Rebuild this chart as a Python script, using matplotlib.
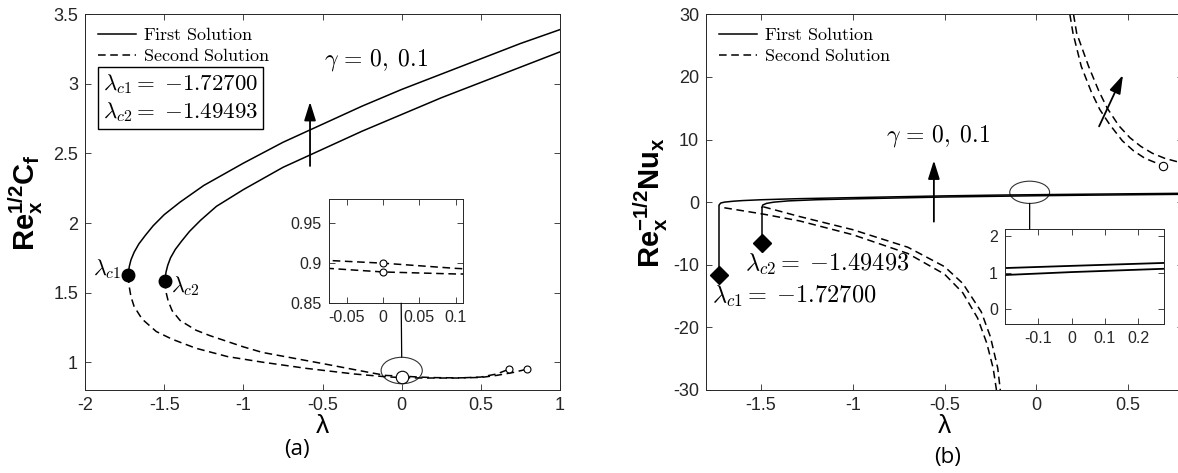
import matplotlib
matplotlib.use('Agg')
import matplotlib.pyplot as plt
from matplotlib.patches import Ellipse, ConnectionPatch
from matplotlib.lines import Line2D

plt.rcParams['mathtext.fontset'] = 'cm'
plt.rcParams['mathtext.bf'] = 'Liberation Sans:bold'
plt.rcParams['mathtext.rm'] = 'Liberation Sans'
plt.rcParams['axes.unicode_minus'] = False
plt.rcParams['font.family'] = 'Liberation Sans'

# ---------------- data: panel (a) skin friction ----------------
lam_c = [-1.72700, -1.49493]
cf_c = [1.624, 1.584]

cf1_first_x = [-1.727, -1.725, -1.72, -1.71, -1.69, -1.66, -1.62, -1.57, -1.5, -1.4, -1.25,
               -1.0, -0.75, -0.5, -0.25, 0.0, 0.25, 0.5, 0.75, 1.0]
cf1_first_y = [1.624, 1.655, 1.69, 1.735, 1.79, 1.85, 1.91, 1.98, 2.06, 2.15, 2.27,
               2.43, 2.58, 2.71, 2.84, 2.96, 3.07, 3.18, 3.29, 3.39]
cf2_first_x = [-1.495, -1.493, -1.488, -1.478, -1.46, -1.43, -1.39, -1.34, -1.27, -1.17,
               -1.0, -0.75, -0.5, -0.25, 0.0, 0.25, 0.5, 0.75, 1.0]
cf2_first_y = [1.584, 1.615, 1.65, 1.695, 1.75, 1.81, 1.87, 1.94, 2.02, 2.12,
               2.24, 2.40, 2.53, 2.66, 2.78, 2.90, 3.01, 3.12, 3.23]

cf1_second_x = [-1.727, -1.722, -1.71, -1.69, -1.64, -1.55, -1.45, -1.3, -1.1, -0.88,
                -0.6, -0.3, -0.1, 0.0, 0.1, 0.2, 0.35, 0.5, 0.6, 0.679]
cf1_second_y = [1.624, 1.55, 1.47, 1.40, 1.31, 1.22, 1.165, 1.10, 1.04, 1.0,
                0.955, 0.915, 0.895, 0.889, 0.8865, 0.886, 0.886, 0.893, 0.915, 0.95]
cf2_second_x = [-1.495, -1.49, -1.475, -1.45, -1.4, -1.3, -1.21, -1.0, -0.88, -0.5,
                -0.2, -0.1, 0.0, 0.1, 0.2, 0.35, 0.5, 0.6, 0.7, 0.793]
cf2_second_y = [1.584, 1.51, 1.44, 1.37, 1.30, 1.23, 1.19, 1.11, 1.07, 0.99,
                0.925, 0.9045, 0.900, 0.8935, 0.889, 0.887, 0.89, 0.905, 0.925, 0.95]
cf_end_x = [0.679, 0.793]
cf_end_y = [0.95, 0.95]

# ---------------- data: panel (b) Nusselt number ----------------
nu_c = [-11.6, -6.5]

nu1_first_x = [-1.727, -1.72, -1.70, -1.65, -1.6, -1.5, -1.3, -1.0, -0.5, -0.2, 0.0, 0.277, 0.5, 0.8]
nu1_first_y = [-0.4, -0.15, 0.0, 0.15, 0.25, 0.38, 0.55, 0.72, 1.0, 1.13, 1.19, 1.27, 1.33, 1.41]
nu2_first_x = [-1.495, -1.49, -1.47, -1.43, -1.35, -1.2, -1.0, -0.5, -0.2, 0.0, 0.277, 0.5, 0.8]
nu2_first_y = [-0.8, -0.45, -0.2, 0.0, 0.2, 0.38, 0.52, 0.82, 0.94, 1.02, 1.11, 1.17, 1.25]

nu1_second_x = [-1.70, -1.49, -1.29, -1.0, -0.7, -0.5, -0.4, -0.32, -0.27, -0.235, -0.217]
nu1_second_y = [-0.9, -1.9, -3.0, -5.2, -8.2, -11.5, -14.5, -18.5, -22.5, -26.5, -30]
nu2_second_x = [-1.488, -1.29, -1.0, -0.7, -0.5, -0.4, -0.3, -0.25, -0.21, -0.196]
nu2_second_y = [-0.74, -2.3, -4.4, -7.2, -10.3, -13.0, -17.5, -21.5, -26.5, -30]

nu3_second_x = [0.183, 0.2, 0.245, 0.3, 0.346, 0.4, 0.469, 0.53, 0.592, 0.692]
nu3_second_y = [30, 27.0, 21.7, 17.6, 14.8, 12.4, 9.8, 8.2, 7.0, 5.8]
nu4_second_x = [0.203, 0.22, 0.285, 0.34, 0.387, 0.45, 0.51, 0.57, 0.633, 0.7, 0.8]
nu4_second_y = [30, 27.0, 21.7, 17.8, 15.0, 12.2, 10.3, 8.9, 7.8, 7.0, 6.2]
nu_end_x = [0.692]
nu_end_y = [5.8]

tick_col = '#262626'


def style_axes(ax, size=13):
    ax.tick_params(direction='in', top=True, right=True, length=4, width=0.6,
                   colors=tick_col, labelsize=size, labelcolor=tick_col, pad=5)
    for s in ax.spines.values():
        s.set_color(tick_col)
        s.set_linewidth(0.7)


fig = plt.figure(figsize=(11.78, 4.73), dpi=100)
arrow_kw = dict(arrowstyle='-|>,head_length=0.7,head_width=0.22', color='k', lw=1.3, mutation_scale=16)
leg_kw = dict(loc='upper left', frameon=False, fontsize=13, handlelength=2.1,
              borderaxespad=0.3, labelspacing=0.25, handletextpad=0.4)

# ================= panel (a) =================
ax = fig.add_axes([0.0722, 0.1755, 0.4032, 0.7943])
ax.plot(cf1_first_x, cf1_first_y, 'k-', lw=1.1)
ax.plot(cf2_first_x, cf2_first_y, 'k-', lw=1.1)
ax.plot(cf1_second_x, cf1_second_y, 'k--', lw=1.1, dashes=(5, 3))
ax.plot(cf2_second_x, cf2_second_y, 'k--', lw=1.1, dashes=(5, 3))
ax.plot(lam_c, cf_c, 'o', color='k', ms=9)
ax.plot(cf_end_x, cf_end_y, 'o', mfc='white', mec='k', ms=5, mew=0.8)
ax.plot([0], [0.895], 'o', mfc='white', mec='k', ms=9, mew=0.8)
ax.add_patch(Ellipse((0, 0.94), 0.26, 0.19, fill=False, ec='#333333', lw=0.8))
ax.set_xlim(-2, 1)
ax.set_ylim(0.8, 3.5)
ax.set_xticks([-2, -1.5, -1, -0.5, 0, 0.5, 1])
ax.set_xticklabels(['-2', '-1.5', '-1', '-0.5', '0', '0.5', '1'])
ax.set_yticks([1, 1.5, 2, 2.5, 3, 3.5])
ax.set_yticklabels(['1', '1.5', '2', '2.5', '3', '3.5'])
style_axes(ax)
ax.set_xlabel('λ', fontsize=19, labelpad=0)
ax.set_ylabel(r'$\mathbf{Re_x^{1/2}C_f}$', fontsize=21, math_fontfamily='custom', labelpad=6)
ax.text(-1.77, 1.67, r'$\lambda_{c1}$', fontsize=16, ha='right', va='center')
ax.text(-1.46, 1.55, r'$\lambda_{c2}$', fontsize=16, ha='left', va='center')
ax.text(-1.885, 2.90, r'$\lambda_{c1} = \;{-1.72700}$' + '\n' + r'$\lambda_{c2} = \;{-1.49493}$',
        fontsize=16.5, va='center', ha='left', linespacing=1.25,
        bbox=dict(boxstyle='square,pad=0.22', fc='white', ec='k', lw=1.0))
ax.text(-0.49, 3.17, r'$\gamma\, =\, 0,\; 0.1$', fontsize=17, va='center')
ax.annotate('', xy=(-0.579, 2.89), xytext=(-0.579, 2.39), arrowprops=arrow_kw)
handles = [Line2D([], [], color='k', lw=1.1), Line2D([], [], color='k', lw=1.1, ls='--', dashes=(5, 3))]
ax.legend(handles, [r'$\mathrm{First\ Solution}$', r'$\mathrm{Second\ Solution}$'], **leg_kw)
fig.text(0.252, 0.05, '(a)', fontsize=16, ha='center', va='center', family='Open Sans')

axin = fig.add_axes([0.279, 0.359, 0.114, 0.220])
axin.plot(cf1_second_x, cf1_second_y, 'k--', lw=1.1, dashes=(5, 3))
axin.plot(cf2_second_x, cf2_second_y, 'k--', lw=1.1, dashes=(5, 3))
axin.plot([0, 0], [0.900, 0.889], 'o', mfc='white', mec='k', ms=5, mew=0.8)
axin.set_xlim(-0.075, 0.11)
axin.set_ylim(0.85, 0.98)
axin.set_xticks([-0.05, 0, 0.05, 0.1])
axin.set_xticklabels(['-0.05', '0', '0.05', '0.1'])
axin.set_yticks([0.85, 0.9, 0.95])
axin.set_yticklabels(['0.85', '0.9', '0.95'])
style_axes(axin, size=11.5)
con = ConnectionPatch(xyA=(0, 1.036), coordsA=ax.transData, xyB=(0.54, 0), coordsB=axin.transAxes,
                      color='k', lw=0.9)
fig.add_artist(con)

# ================= panel (b) =================
bx = fig.add_axes([0.5993, 0.1755, 0.405, 0.7943])
bx.plot(nu1_first_x, nu1_first_y, 'k-', lw=1.1)
bx.plot(nu2_first_x, nu2_first_y, 'k-', lw=1.1)
bx.vlines(lam_c, nu_c, [nu1_first_y[0], nu2_first_y[0]], colors='k', lw=1.1)
bx.plot(nu1_second_x, nu1_second_y, 'k--', lw=1.1, dashes=(5, 3))
bx.plot(nu2_second_x, nu2_second_y, 'k--', lw=1.1, dashes=(5, 3))
bx.plot(nu3_second_x, nu3_second_y, 'k--', lw=1.1, dashes=(5, 3))
bx.plot(nu4_second_x, nu4_second_y, 'k--', lw=1.1, dashes=(5, 3))
bx.plot(lam_c, nu_c, 'D', color='k', ms=9)
bx.plot(nu_end_x, nu_end_y, 'o', mfc='white', mec='k', ms=6, mew=0.8)
bx.add_patch(Ellipse((-0.036, 1.57), 0.217, 3.55, fill=False, ec='#333333', lw=0.8))
bx.set_xlim(-1.8, 0.8)
bx.set_ylim(-30, 30)
bx.set_xticks([-1.5, -1, -0.5, 0, 0.5])
bx.set_xticklabels(['-1.5', '-1', '-0.5', '0', '0.5'])
bx.set_yticks([-30, -20, -10, 0, 10, 20, 30])
style_axes(bx)
bx.set_xlabel('λ', fontsize=19, labelpad=0)
bx.set_ylabel(r'$\mathbf{Re_x^{-1/2}Nu_x}$', fontsize=21, math_fontfamily='custom', labelpad=2)
bx.text(-1.765, -15.0, r'$\lambda_{c1} = \;{-1.72700}$', fontsize=17.5, va='center', ha='left')
bx.text(-1.585, -9.9, r'$\lambda_{c2} = \;{-1.49493}$', fontsize=17.5, va='center', ha='left')
bx.text(-0.82, 10.5, r'$\gamma\, =\, 0,\; 0.1$', fontsize=17, va='center')
bx.annotate('', xy=(-0.558, 7.1), xytext=(-0.558, -3.56), arrowprops=arrow_kw)
bx.annotate('', xy=(0.479, 20.7), xytext=(0.336, 11.7), arrowprops=arrow_kw)
bx.legend(handles, [r'$\mathrm{First\ Solution}$', r'$\mathrm{Second\ Solution}$'], **leg_kw)
fig.text(0.804, 0.032, '(b)', fontsize=16, ha='center', va='center', family='Open Sans')

bxin = fig.add_axes([0.853, 0.315, 0.135, 0.201])
bxin.plot(nu1_first_x, nu1_first_y, 'k-', lw=1.3)
bxin.plot(nu2_first_x, nu2_first_y, 'k-', lw=1.3)
bxin.set_xlim(-0.2, 0.277)
bxin.set_ylim(-0.4, 2.2)
bxin.set_xticks([-0.1, 0, 0.1, 0.2])
bxin.set_xticklabels(['-0.1', '0', '0.1', '0.2'])
bxin.set_yticks([0, 1, 2])
style_axes(bxin, size=11.5)
con2 = ConnectionPatch(xyA=(-0.036, -0.2), coordsA=bx.transData, xyB=(0.156, 1), coordsB=bxin.transAxes,
                       color='k', lw=0.9)
fig.add_artist(con2)

fig.savefig('out.png', dpi=100)
